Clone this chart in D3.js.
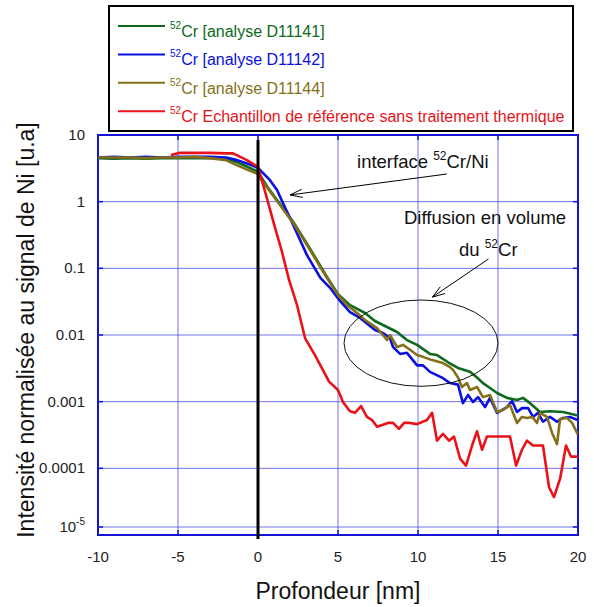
<!DOCTYPE html>
<html>
<head>
<meta charset="utf-8">
<script src="https://cdn.jsdelivr.net/npm/d3@7"></script>
<style>
  body { margin: 0; background: #fff; }
  svg { display: block; font-family: "Liberation Sans", Arial, sans-serif; }
</style>
</head>
<body>
<svg id="chart" width="594" height="607"></svg>
<script>
// Axis ticks
const xTicks = [-10, -5, 0, 5, 10, 15, 20];
const yTicks = [10, 1, 0.1, 0.01, 0.001, 0.0001, 1e-5];
const yTickLabels = ["10", "1", "0.1", "0.01", "0.001", "0.0001", "10^-5"];

// Series labels and colours (legend order)
const seriesLabels = ["Cr [analyse D11141]", "Cr [analyse D11142]", "Cr [analyse D11144]",
  "Cr Echantillon de référence sans traitement thermique"];
const seriesColors = ["#0d6a1c", "#0a10e0", "#857018", "#ea1218"];

// 52Cr [analyse D11141]
const greenDepth = [-10, -9, -8, -7, -6, -5, -4, -3, -2, -1.3, -0.5, 0, 0.56, 1.375, 2.19, 3.06, 4.3, 5,
  5.75, 6.69, 7.31, 8.06, 8.69, 9.31, 9.94, 10.75, 11.19, 11.88, 12.5, 13.25, 13.69, 14.06, 14.5, 14.94,
  15.56, 16.19, 16.56, 17, 17.63, 18.25, 19.06, 20];
const greenValue = [4.5, 4.4, 4.5, 4.4, 4.5, 4.5, 4.5, 4.5, 4.4, 3.9, 3.2, 2.8, 1.7, 0.92, 0.5, 0.235, 0.075, 0.041,
  0.028, 0.0214, 0.0162, 0.0132, 0.0111, 0.0084, 0.0071, 0.0052, 0.005, 0.0039, 0.0032, 0.0028, 0.0023, 0.0019, 0.0016, 0.00135,
  0.00114, 0.00106, 0.00114, 0.00095, 0.0007, 0.00072, 0.0007, 0.00062];

// 52Cr [analyse D11142]
const blueDepth = [-10, -9, -8, -7, -6, -5, -4, -3, -2, -1.3, -0.5, 0, 0.75, 1.19, 1.56, 2, 2.5, 3.06, 3.9, 4.5,
  5.1, 5.75, 6.38, 7.31, 7.81, 8.25, 8.44, 8.88, 9.31, 9.94, 10.31, 10.75, 11.5, 12, 12.5, 12.81, 13.13, 13.44,
  13.75, 14.19, 14.5, 14.94, 15.56, 15.88, 16.19, 16.5, 16.88, 17.19, 17.5, 17.81, 18.25, 18.69, 19.06, 19.5, 20];
const blueValue = [4.6, 4.7, 4.6, 4.7, 4.6, 4.7, 4.7, 4.7, 4.6, 4.2, 3.6, 3.2, 2.1, 1.5, 0.95, 0.57, 0.31, 0.158, 0.072, 0.051,
  0.033, 0.022, 0.018, 0.0119, 0.0107, 0.009, 0.0066, 0.0052, 0.0054, 0.0035, 0.0035, 0.0028, 0.0023, 0.0019, 0.0018, 0.00095, 0.00126, 0.00099,
  0.00117, 0.00083, 0.00114, 0.00068, 0.00083, 0.00102, 0.0007, 0.0008, 0.0008, 0.00059, 0.00068, 0.0005, 0.00059, 0.0005, 0.00057, 0.00059, 0.00053];

// 52Cr [analyse D11144]
const oliveDepth = [-10, -9, -8, -7, -6, -5, -4, -3, -2, -1.3, -0.5, 0, 0.125, 1.375, 2.19, 3.06, 4.3, 5, 5.56, 6.19,
  6.69, 7.44, 7.81, 8.06, 8.25, 8.69, 9.06, 9.5, 9.94, 10.31, 10.88, 11.56, 12, 12.19, 12.5, 12.75, 13.06, 13.25,
  13.69, 14.06, 14.5, 14.94, 15.31, 15.75, 16.19, 16.5, 16.81, 17.13, 17.44, 17.63, 18.06, 18.38, 18.69, 18.88,
  19.31, 19.63, 20];
const oliveValue = [4.6, 4.6, 4.6, 4.5, 4.6, 4.6, 4.7, 4.5, 4.2, 3.5, 2.9, 2.6, 2.26, 0.89, 0.48, 0.224, 0.072, 0.0398, 0.0282, 0.0214,
  0.0168, 0.0127, 0.01, 0.0084, 0.01, 0.0066, 0.0071, 0.006, 0.005, 0.0047, 0.0042, 0.0038, 0.0033, 0.003, 0.0023, 0.00166, 0.0019, 0.0015,
  0.00166, 0.00117, 0.00126, 0.0007, 0.00075, 0.00089, 0.00048, 0.00059, 0.00057, 0.00059, 0.00048, 0.00068, 0.00059, 0.00034, 0.00023, 0.00055,
  0.00057, 0.00048, 0.00032];

// 52Cr reference sample (no heat treatment)
const redDepth = [-5.44, -4.88, -4, -3, -2, -1.56, -0.69, 0, 0.5, 1, 1.5, 1.94, 2.44, 2.94, 3.56, 4.44, 5, 5.31, 5.75,
  6.06, 6.44, 6.81, 7.13, 7.44, 8.13, 8.44, 8.81, 9.13, 9.5, 9.94, 10.56, 10.88, 11.19, 11.56, 11.94, 12.25, 12.63,
  13, 13.38, 13.69, 14, 14.31, 15.75, 16.13, 16.5, 16.81, 17.19, 17.81, 18.19, 18.5, 18.88, 19.25, 19.56, 20];
const redValue = [5.0, 5.4, 5.4, 5.4, 5.3, 5.3, 4.2, 3.3, 1.26, 0.46, 0.176, 0.067, 0.028, 0.009, 0.005, 0.002, 0.0015, 0.00099, 0.00072,
  0.00068, 0.00086, 0.00059, 0.00053, 0.00042, 0.00048, 0.00048, 0.00039, 0.00048, 0.00048, 0.00046, 0.00053, 0.00068, 0.00026, 0.00033, 0.00026, 0.0003, 0.00014,
  0.00011, 0.00022, 0.00036, 0.00019, 0.0003, 0.0003, 0.00011, 0.00019, 0.00026, 0.00022, 0.00022, 0.000052, 0.000037, 0.00007, 0.00022, 0.00015, 0.00015];

const series = [
  { depth: greenDepth, value: greenValue },
  { depth: blueDepth, value: blueValue },
  { depth: oliveDepth, value: oliveValue },
  { depth: redDepth, value: redValue }
].map((s, i) => ({
  label: seriesLabels[i], color: seriesColors[i],
  points: s.depth.map((d, j) => [d, s.value[j]])
}));

const svg = d3.select("#chart");
const plot = { left: 98, right: 578, top: 135, bottom: 535 };

const x = d3.scaleLinear().domain([-10, 20]).range([plot.left, plot.right]);
const y = d3.scaleLog().domain([1e-5, 10]).range([plot.bottom, plot.top]);

const gridColor = "#5a5ae6";
const frameColor = "#1414d4";

// grid
const grid = svg.append("g");
grid.selectAll("line.vx").data(xTicks.slice(1, -1)).join("line")
  .attr("x1", d => x(d)).attr("x2", d => x(d))
  .attr("y1", plot.top).attr("y2", plot.bottom)
  .attr("stroke", gridColor).attr("stroke-width", 1).attr("opacity", 0.85);
// the lowest label sits a little above the frame edge
const yPos = (v, i) => (i === yTicks.length - 1 ? y(v) - 8 : y(v));
grid.selectAll("line.hy").data(yTicks.slice(1)).join("line")
  .attr("x1", plot.left).attr("x2", plot.right)
  .attr("y1", (d, i) => yPos(d, i + 1)).attr("y2", (d, i) => yPos(d, i + 1))
  .attr("stroke", gridColor).attr("stroke-width", 1).attr("opacity", 0.85);

// inward tick marks on all sides
const ticks = svg.append("g").attr("stroke", frameColor).attr("stroke-width", 1.5);
xTicks.forEach(v => {
  ticks.append("line").attr("x1", x(v)).attr("x2", x(v)).attr("y1", plot.bottom).attr("y2", plot.bottom - 5);
  ticks.append("line").attr("x1", x(v)).attr("x2", x(v)).attr("y1", plot.top).attr("y2", plot.top + 5);
});
yTicks.forEach((v, i) => {
  const yy = yPos(v, i);
  ticks.append("line").attr("x1", plot.left).attr("x2", plot.left + 5).attr("y1", yy).attr("y2", yy);
  ticks.append("line").attr("x1", plot.right).attr("x2", plot.right - 5).attr("y1", yy).attr("y2", yy);
});

// frame
svg.append("rect")
  .attr("x", plot.left).attr("y", plot.top)
  .attr("width", plot.right - plot.left).attr("height", plot.bottom - plot.top)
  .attr("fill", "none").attr("stroke", frameColor).attr("stroke-width", 2);

// curves
svg.append("clipPath").attr("id", "clip").append("rect")
  .attr("x", plot.left).attr("y", plot.top)
  .attr("width", plot.right - plot.left).attr("height", plot.bottom - plot.top);
const line = d3.line().x(d => x(d[0])).y(d => y(d[1]));
svg.append("g").attr("clip-path", "url(#clip)")
  .selectAll("path").data(series).join("path")
  .attr("d", d => line(d.points))
  .attr("fill", "none").attr("stroke", d => d.color)
  .attr("stroke-width", 2.6).attr("stroke-linejoin", "round");

// interface marker at zero depth
svg.append("line")
  .attr("x1", x(0)).attr("x2", x(0))
  .attr("y1", plot.top + 5).attr("y2", plot.bottom + 4)
  .attr("stroke", "#000").attr("stroke-width", 3);

// tick labels
const labels = svg.append("g").attr("fill", "#222").attr("font-size", 15);
labels.selectAll("text.xl").data(xTicks).join("text")
  .attr("x", d => x(d)).attr("y", 562).attr("text-anchor", "middle").text(d => d);
yTicks.forEach((v, i) => {
  const t = labels.append("text").attr("x", 85).attr("y", yPos(v, i) + 5).attr("text-anchor", "end");
  const lab = yTickLabels[i];
  if (lab.includes("^")) {
    const [base, exp] = lab.split("^");
    t.append("tspan").text(base);
    t.append("tspan").attr("font-size", 10).attr("dy", -7).text(exp);
  } else {
    t.text(lab);
  }
});

// axis titles
svg.append("text").attr("x", x(5)).attr("y", 599).attr("text-anchor", "middle")
  .attr("font-size", 23).attr("fill", "#111").text("Profondeur [nm]");
svg.append("text").attr("transform", "translate(34,330) rotate(-90)").attr("text-anchor", "middle")
  .attr("font-size", 23).attr("fill", "#111").text("Intensité normalisée au signal de Ni [u.a]");

// annotations
const ann = svg.append("g").attr("fill", "#111").attr("font-size", 18.5);
function supText(g, px, py, before, after) {
  const t = g.append("text").attr("x", px).attr("y", py);
  t.append("tspan").text(before);
  t.append("tspan").attr("font-size", 12).attr("dy", -8).text("52");
  t.append("tspan").attr("dy", 8).text(after);
}
supText(ann, x(6.19), y(3.2), "interface ", "Cr/Ni");
ann.append("text").attr("x", x(9.125)).attr("y", y(0.46)).text("Diffusion en volume");
supText(ann, x(12.56), y(0.153), "du ", "Cr");

function arrow(x1, y1, x2, y2) {
  const g = svg.append("g").attr("stroke", "#000").attr("stroke-width", 1).attr("fill", "none");
  g.append("line").attr("x1", x1).attr("y1", y1).attr("x2", x2).attr("y2", y2);
  const a = Math.atan2(y1 - y2, x1 - x2), L = 13, h = 0.32;
  g.append("path").attr("d",
    `M${x2 + L * Math.cos(a + h)},${y2 + L * Math.sin(a + h)} L${x2},${y2} L${x2 + L * Math.cos(a - h)},${y2 + L * Math.sin(a - h)}`);
}
arrow(x(11.8), y(2.6), x(2.0), y(1.26));
arrow(x(14.4), y(0.138), x(10.9), y(0.037));

// ellipse around the bulk-diffusion tail
svg.append("ellipse")
  .attr("cx", (x(5.375) + x(15.0)) / 2).attr("cy", (y(0.0335) + y(0.0017)) / 2)
  .attr("rx", (x(15.0) - x(5.375)) / 2).attr("ry", (y(0.0017) - y(0.0335)) / 2)
  .attr("fill", "none").attr("stroke", "#111").attr("stroke-width", 1);

// legend
const lg = svg.append("g");
lg.append("rect").attr("x", 109).attr("y", 6).attr("width", 464).attr("height", 125)
  .attr("fill", "#fff").attr("stroke", "#000").attr("stroke-width", 2);
series.forEach((s, i) => {
  const ly = 26 + i * 28.4;
  lg.append("line").attr("x1", 118).attr("x2", 165).attr("y1", ly).attr("y2", ly)
    .attr("stroke", s.color).attr("stroke-width", 2);
  const t = lg.append("text").attr("x", 170).attr("y", ly + 11).attr("fill", s.color).attr("font-size", 16);
  t.append("tspan").attr("font-size", 10).attr("dy", -8).text("52");
  t.append("tspan").attr("dy", 8).text(s.label);
});
</script>
</body>
</html>
